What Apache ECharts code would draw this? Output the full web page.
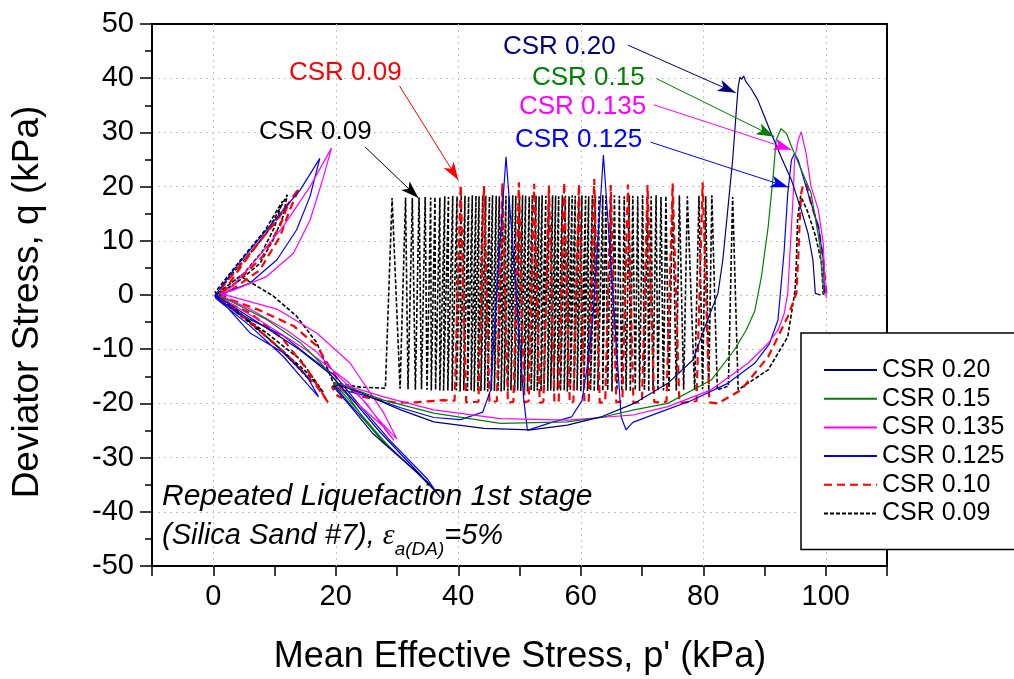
<!DOCTYPE html>
<html><head><meta charset="utf-8">
<script src="https://cdn.jsdelivr.net/npm/echarts/dist/echarts.min.js"></script>
<style>html,body{margin:0;padding:0;background:#fff}#c{width:1014px;height:679px}</style>
</head><body><div id="c"></div>
<script>
// ---------------- DATA ----------------
const xGridTicks = [0, 20, 40, 60, 80, 100];
const legendNames = ['CSR 0.20', 'CSR 0.15', 'CSR 0.135', 'CSR 0.125', 'CSR 0.10', 'CSR 0.09'];

// CSR 0.20 (p', q)
const csr020 = [[99.2,0],[98.3,0.3],[97.9,6.5],[97.1,11.4],[96,15.7],[94.4,21.2],[92.7,25.5],[91.1,29.8],[90,32.9],[88.9,36],[87.8,38.1],[86.9,39.5],[86.6,40.4],[86.3,39.8],[86,40.2],[85.7,38.4],[85.4,34.1],[84.8,24.9],[84,15.7],[83.2,6.5],[82.4,0.3],[80.7,-4.6],[78.3,-12],[74.2,-16.3],[68.7,-20],[63.3,-22.5],[57.8,-24],[51.8,-24.9],[44.2,-24.6],[36,-23.4],[30.6,-21.2],[24,-18],[20.5,-16.6],[19.6,-16.9],[22,-20],[26,-25.5],[31,-30.5],[35,-34.5],[37.1,-37.4],[36.3,-36.2],[32,-31],[27,-25],[22.5,-19],[19,-14.5],[14,-10],[8,-5.6],[3,-2],[0.8,-0.3],[0.4,0.4]];

// CSR 0.15
const csr015 = [[99.7,0],[99,9.5],[97.6,18.8],[96,23.1],[94.4,27.4],[93.6,29.8],[92.7,30.7],[91.9,28.6],[91.4,21.8],[90.6,12.6],[89.5,3.4],[88.4,-3],[87,-6.5],[85.1,-10.1],[81.3,-15.7],[74.2,-20],[68.7,-21.2],[63.3,-22.6],[57.8,-23.4],[46.9,-23.7],[36,-21.8],[27.8,-19.4],[22,-17],[19.6,-16.3],[21.5,-18.5],[24.5,-22.5],[27,-25.8],[28.9,-28.2],[28,-27.5],[25,-23.5],[21.5,-17.8],[17.5,-12.5],[14.2,-8.8],[8.7,-4.5],[2.2,-0.8],[0.6,0]];

// CSR 0.135
const csr0135 = [[100.1,-0.6],[99.8,3.4],[99.6,9.5],[98.8,15.7],[97.6,20],[96.8,26.1],[96,30.1],[95.5,28.6],[94.9,24.9],[94.7,18.8],[94.4,12.6],[94.1,6.5],[93.8,0.3],[93.2,-3.5],[92.2,-6.5],[90.6,-8.9],[87.3,-12.6],[81.3,-17.5],[74.2,-20.6],[68.7,-22.1],[63.3,-22.6],[57.8,-23.1],[46.9,-22.8],[36,-21.2],[27.8,-18.8],[22.4,-16.9],[19.6,-16.3],[22,-18.5],[25.5,-22],[28,-24.5],[29.5,-26.8],[28.5,-25.5],[25,-20],[20,-14.5],[16.9,-10.5],[12,-6.5],[6,-2.6],[1.5,-0.3],[6,5.2],[11.4,12.6],[15.8,20],[19.3,27.1],[18,21.8],[15.8,13.8],[13.1,7.7],[8.7,3.4],[3.3,0.9],[1.1,0.2],[2.7,-0.2],[10.4,-2.6],[16.9,-7],[22.3,-12.5],[27.8,-21.7],[30,-26.6],[27,-23],[22,-16],[15,-10],[8,-5],[2,-1],[0.5,0]];

// CSR 0.125
const csr0125 = [[99.8,0.3],[99.6,6.5],[98.8,12.6],[97.1,18.8],[95.5,24.9],[94.9,26.1],[94.4,24.9],[93.8,18.8],[93.2,8],[92.2,-4.6],[90.8,-9],[88.4,-12.6],[84,-16.3],[78,-19.5],[72.5,-21.8],[68.5,-23.5],[67.4,-24.9],[66.6,-22.5],[65.5,-4],[64.4,14.4],[63.7,25.8],[62.9,12],[62,-4],[61.1,-13],[60.2,-19.5],[58.5,-22.5],[55,-23.6],[52,-24.7],[51.3,-25],[50.7,-19.4],[49.3,3],[47.8,25.5],[46.6,6],[45.3,-17.5],[44,-21.6],[40.4,-23],[36,-22.6],[30.6,-20.8],[25,-18.6],[20.3,-17.3],[19.8,-16.8],[23,-21],[28,-27.2],[33,-32.5],[36.5,-36.5],[35,-34],[29,-27],[24,-20.5],[20,-15],[15.3,-11],[11.4,-7.5],[6,-4.5],[1.6,-1.4],[0.2,-0.2],[3.3,4.6],[8.7,12],[14.2,19.4],[17.4,25.2],[15.8,18.2],[13.6,12],[10.4,6.5],[6,2.2],[1.6,0.3],[0.4,-0.6],[6,-5.7],[11.4,-11.3],[14.7,-15.6],[17.2,-18.8],[15.3,-15],[11.4,-10.6],[6,-7],[1.6,-1.4],[0.3,0]];

// CSR 0.10 : first cycle, repeated cycles, liquefaction tail
const csr010Start = [[100.1,0.3],[99.6,6.5],[98.8,12.6],[97.6,16.9],[96.8,20.6],[96.3,20.2],[96,18.8],[95.7,12.6],[95.5,6.5],[95.2,0.3],[93.8,-4],[90.6,-11.4],[86.2,-17.5],[82.4,-20]];
const csr010Cycles = [[81.0,-19.8],[79.9,20.8],[78.9,-19.6],[76.1,-19.9],[75.0,20.6],[74.0,-19.7],[72.0,-19.8],[70.9,20.3],[70.0,-19.7],[68.6,-19.9],[67.7,20.4],[66.8,-19.6],[65.8,-19.8],[64.9,20.3],[64.0,-19.7],[63.1,-19.9],[62.2,21.4],[61.3,-19.6],[60.6,-19.8],[59.7,20.5],[58.8,-19.7],[58.2,-19.9],[57.3,20.8],[56.4,-19.6],[55.7,-19.8],[54.8,20.2],[53.9,-19.7],[53.3,-19.9],[52.4,20.5],[51.5,-19.6],[50.8,-19.8],[49.9,20.8],[49.0,-19.7],[48.1,-19.9],[47.2,20.6],[46.3,-19.6],[45.1,-19.8],[44.2,20.1],[43.3,-19.7],[41.3,-19.8],[40.4,20.3],[39.4,-19.5]];
const csr010Tail = [[37.6,-19.4],[33,-19.8],[30,-19.9],[24.5,-18.8],[20.2,-16.2],[19.4,-17],[20.2,-18.5],[21,-19],[20.5,-16],[16.9,-9.4],[13.1,-5.7],[7.1,-2.6],[2.7,-0.8],[0.8,0.5],[6,7.7],[10.4,13.8],[14,19.7],[12.5,15.7],[10.9,10.8],[7.6,4.6],[2.2,0.3],[0.5,-0.5],[6,-3.3],[11.4,-8.2],[15.3,-13.7],[18.8,-19.9],[17,-17],[12,-11],[6,-5],[1,-0.5],[5,6],[9,12],[12.3,17],[11,13],[8,7],[3,1.5],[0.5,0]];

// CSR 0.09 : first cycle, repeated cycles, liquefaction tail
const csr009Start = [[99.6,0],[99.3,6],[98.3,11],[97,15.5],[95.9,18.3],[95.4,14],[95.2,6],[95,0.9],[93.8,-7.7],[90.6,-13.8],[85.7,-17.5]];
const csr009Cycles = [[84.8,18.1],[84.1,-16.8],[82.3,-17.5],[81.4,18.4],[80.9,-17.6],[80.4,18.2],[79.9,-17.4],[79.3,18.3],[78.6,-17.6],[77.4,18.2],[76.8,-17.5],[76.1,18.4],[75.6,-17.6],[75.0,18.2],[74.4,-17.7],[73.9,18.3],[73.5,-17.6],[73.1,18.1],[72.6,-17.7],[72.3,18.4],[71.8,-17.6],[71.5,18.2],[71.1,-17.8],[70.9,18.3],[70.4,-17.6],[70.1,18.4],[69.6,-17.7],[69.3,18.2],[68.9,-17.6],[68.5,18.3],[68.1,-17.8],[67.9,18.4],[67.4,-17.6],[67.1,18.2],[66.7,-17.7],[66.3,18.3],[65.9,-17.6],[65.5,18.4],[65.1,-17.8],[64.9,18.2],[64.4,-17.6],[64.1,18.3],[63.6,-17.7],
[63.6,18.4],[62.8,-17.6],[63.0,18.2],[62.2,-17.8],[62.4,18.3],[61.6,-17.6],[61.9,18.4],[61.1,-17.7],[61.3,18.2],[60.5,-17.6],[60.8,18.3],[60.0,-17.8],[60.2,18.4],[59.4,-17.6],[59.7,18.2],[58.9,-17.7],[59.1,18.3],[58.3,-17.6],[58.6,18.4],[57.8,-17.8],[58.1,18.2],[57.3,-17.6],[57.5,18.3],[56.7,-17.7],[57.0,18.4],[56.2,-17.6],[56.4,18.2],[55.6,-17.8],[55.9,18.3],[55.1,-17.6],[55.4,18.4],[54.6,-17.7],[54.8,18.2],[54.0,-17.6],[54.3,18.3],[53.5,-17.8],[53.7,18.4],[52.9,-17.6],[53.2,18.2],[52.4,-17.7],[52.7,18.3],[51.9,-17.6],[52.1,18.4],[51.3,-17.8],[51.6,18.2],[50.8,-17.6],[51.0,18.3],[50.2,-17.7],[50.5,18.4],[49.7,-17.6],[50.0,18.2],[49.2,-17.8],[49.4,18.3],[48.6,-17.6],[48.9,18.4],[48.1,-17.7],[48.3,18.2],[47.5,-17.6],[47.8,18.3],[47.0,-17.8],[47.3,18.4],[46.5,-17.6],[46.7,18.2],[45.9,-17.7],[46.2,18.3],[45.4,-17.6],[45.6,18.4],[44.8,-17.8],[45.1,18.2],[44.3,-17.6],[44.5,18.3],[43.7,-17.7],[44.0,18.4],[43.2,-17.6],[43.4,18.2],[42.6,-17.8],[42.9,18.3],[42.1,-17.6],[42.3,18.4],[41.5,-17.7],[41.7,18.2],[40.9,-17.6],[41.1,18.3],[40.3,-17.8],[40.5,18.4],[39.7,-17.6],[39.8,18.2],[39.0,-17.7],[39.1,18.3],[38.3,-17.6],[38.4,18.1],[37.6,-17.7],[37.8,18.2],[37.0,-17.6],[37.0,18.0],[36.3,-17.5],[36.2,18.1],[35.6,-17.6],[35.5,18.0],[34.9,-17.5],[34.6,18.1],[34.0,-17.4],[33.6,18.0],[33.0,-17.5],[32.5,17.9],[31.8,-17.4],[31.4,18.0],[30.5,-17.3],[29.2,17.9],[28.1,-17.2]];
const csr009Tail = [[24,-17],[19.6,-16.2],[16.9,-8.8],[13.6,-3.9],[9.8,-0.2],[4.4,3.5],[1,0.5],[0.4,-0.5],[8.7,-7],[14.2,-11.9],[18,-18],[15,-14],[9,-8],[3,-2.5],[0.6,0],[2.7,3.4],[6,7.7],[8.7,11.4],[12.1,18.5],[11.4,14.5],[9.8,10.2],[7.6,5.8],[4.4,2.8],[1,0.2],[5,-4],[11,-10],[16,-16],[13,-12],[7,-6],[1.5,-1],[0.3,0.5],[4.5,6.5],[8.5,12],[11.3,17.3],[10,12.5],[8,8],[5,4],[1.5,1],[0.5,0]];

// Annotation arrows (data coordinates: from -> to)
const arrowFrom = [[67.7,46.1],[72.4,39.9],[71.9,35.1],[71.4,28.2],[30.4,38.6],[24.8,27.3]];
const arrowTo   = [[85.3,37.3],[91.6,29.2],[94.4,26.8],[93.9,19.9],[40.0,21.2],[33.5,17.9]];
const arrowText = ['CSR 0.20','CSR 0.15','CSR 0.135','CSR 0.125','CSR 0.09','CSR 0.09'];

// ---------------- STYLE ----------------
const FONT = '"Liberation Sans", Arial, Helvetica, sans-serif';
const seriesColors = {'CSR 0.20':'#000080','CSR 0.15':'#008000','CSR 0.135':'#ff00ff','CSR 0.125':'#0000ff','CSR 0.10':'#ff0000','CSR 0.09':'#000000'};
const arrowColors = ['#000080','#008000','#ff00ff','#0000ff','#ff0000','#000000'];
const textBoxes = [[503,47],[532,78],[519,107],[515,140],[289,73],[259,132]];

function solid(name, data) {
  return {name, type:'line', data, symbol:'none', showSymbol:false, silent:true, clip:true,
    lineStyle:{color:seriesColors[name], width:1.2, type:'solid'}, itemStyle:{color:seriesColors[name]}, z:3};
}

const chart = echarts.init(document.getElementById('c'), null, {renderer:'canvas'});
const option = {
  animation:false,
  backgroundColor:'#fff',
  grid:{left:152, right:127, top:24, bottom:113, show:true, borderColor:'#000', borderWidth:2, backgroundColor:'transparent', containLabel:false, outerBoundsMode:'none'},
  xAxis:{type:'value', min:-10, max:110, interval:10,
    axisLine:{onZero:false, lineStyle:{color:'#000', width:2}},
    axisTick:{show:true, inside:false, length:10, lineStyle:{color:'#000', width:1.5}},
    axisLabel:{color:'#000', fontSize:29, fontFamily:FONT, margin:16, formatter:v => (v % 20 === 0 ? String(v) : '')},
    splitLine:{show:false}},
  yAxis:{type:'value', min:-50, max:50, interval:10,
    axisLine:{onZero:false, lineStyle:{color:'#000', width:2}},
    axisTick:{show:true, inside:false, length:12, lineStyle:{color:'#000', width:1.5}},
    minorTick:{show:true, splitNumber:2, length:7, lineStyle:{color:'#000', width:1.5}},
    axisLabel:{color:'#000', fontSize:29, fontFamily:FONT, margin:18},
    splitLine:{show:true, showMinLine:false, showMaxLine:false, lineStyle:{color:'#c4c4c4', width:1, type:[2,4]}}},
  legend:{show:true, orient:'vertical', left:801, top:333, selectedMode:false,
    data:legendNames, itemWidth:53, itemHeight:14, itemGap:0.7,
    itemStyle:{opacity:0}, lineStyle:{opacity:1},
    padding:[23,60,22,22], backgroundColor:'#fff', borderColor:'#000', borderWidth:1.5, borderRadius:0,
    textStyle:{color:'#000', fontSize:25, fontFamily:FONT, lineHeight:28}},
  graphic:[],
  series:[
    {name:'_grid', type:'line', data:[], silent:true, z:1,
      markLine:{silent:true, z:1, symbol:['none','none'], animation:false, label:{show:false},
        lineStyle:{color:'#c4c4c4', width:1, type:[2,4]},
        data:xGridTicks.map(v => ({xAxis:v}))}},
    {name:'CSR 0.09', type:'line', data:csr009Start.concat(csr009Cycles, csr009Tail), symbol:'none', showSymbol:false, silent:true,
      lineStyle:{color:'#000', width:1.6, type:[4,2]}, itemStyle:{color:'#000'}, z:2},
    {name:'CSR 0.10', type:'line', data:csr010Start.concat(csr010Cycles, csr010Tail), symbol:'none', showSymbol:false, silent:true,
      lineStyle:{color:'#ff0000', width:2.2, type:[8,5]}, itemStyle:{color:'#ff0000'}, z:3},
    solid('CSR 0.125', csr0125),
    solid('CSR 0.135', csr0135),
    solid('CSR 0.15', csr015),
    solid('CSR 0.20', csr020),
    {name:'_arrows', type:'line', data:[], silent:true, z:6,
      markLine:{silent:true, z:6, symbol:['none','arrow'], symbolSize:[9,18], animation:false, label:{show:false},
        data:arrowFrom.map((a, i) => [
          {coord:a, lineStyle:{color:arrowColors[i], width:1, type:'solid'}, itemStyle:{color:arrowColors[i]}},
          {coord:arrowTo[i]}])}}
  ]
};

// text annotations
arrowText.forEach((t, i) => {
  option.graphic.push({type:'text', x:textBoxes[i][0], y:textBoxes[i][1], z:10, silent:true,
    style:{text:t, fill:arrowColors[i], fontSize:26, fontFamily:FONT, align:'left', verticalAlign:'middle'}});
});
option.graphic.push({type:'text', x:28, y:302, rotation:Math.PI/2, silent:true,
  style:{text:'Deviator Stress, q (kPa)', fill:'#000', fontSize:37, fontFamily:FONT, align:'center', verticalAlign:'middle'}});
option.graphic.push({type:'text', x:520, y:657, silent:true,
  style:{text:"Mean Effective Stress, p' (kPa)", fill:'#000', fontSize:36, fontFamily:FONT, align:'center', verticalAlign:'middle'}});
option.graphic.push({type:'text', x:162, y:497, silent:true, z:10,
  style:{text:'Repeated Liquefaction 1st stage', fill:'#000', fontSize:30, fontStyle:'italic', fontFamily:FONT, align:'left', verticalAlign:'middle'}});
option.graphic.push({type:'text', x:162, y:536, silent:true, z:10,
  style:{text:'{n|(Silica Sand #7), }{e|ε}{s|a(DA)}{n|=5%}', fill:'#000', align:'left', verticalAlign:'middle',
    rich:{
      n:{fontSize:29, fontStyle:'italic', fontFamily:FONT, fill:'#000'},
      e:{fontSize:30, fontStyle:'italic', fontFamily:'"Liberation Serif", "Times New Roman", serif', fill:'#000'},
      s:{fontSize:19, fontStyle:'italic', fontFamily:FONT, fill:'#000', padding:[28,0,0,0]}
    }}});

chart.setOption(option);
</script></body></html>
